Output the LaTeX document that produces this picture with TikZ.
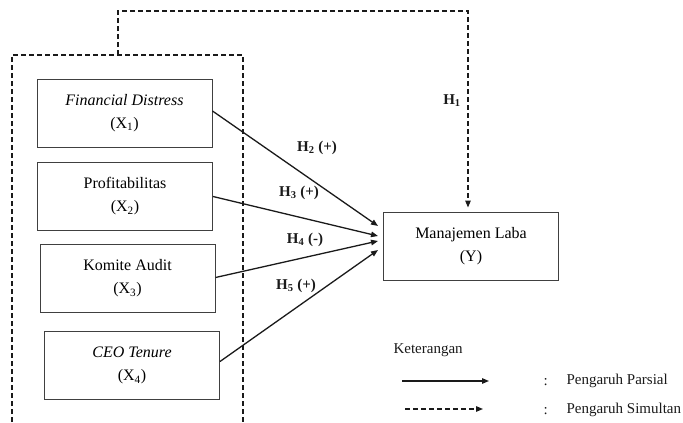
\documentclass[tikz,border=0pt]{standalone}
\usepackage{fontspec}
\setmainfont{Liberation Serif}
\usepackage{tikz}
\usetikzlibrary{positioning,arrows.meta,calc}
\definecolor{ink}{HTML}{1A1A1A}
\definecolor{frame}{HTML}{404040}
\tikzset{
  varbox/.style={rectangle,draw=frame,line width=1pt,fill=white,align=center,
    minimum width=175pt,minimum height=68pt,inner sep=2pt,font=\fontsize{16}{23}\selectfont},
  ar/.style={-{Triangle[length=7pt,width=5.5pt]},line width=1.3pt,draw=ink},
  dar/.style={-{Triangle[length=7pt,width=5.5pt]},line width=1.2pt,draw=ink,dash pattern=on 5pt off 3pt},
  dln/.style={line width=1.2pt,draw=ink,dash pattern=on 5pt off 3pt},
  hyp/.style={font=\fontsize{15}{17}\selectfont\bfseries,text=ink},
  lgd/.style={font=\fontsize{15}{17}\selectfont,text=ink,anchor=west},
}
\begin{document}
\begin{tikzpicture}[x=1pt,y=-1pt]
  \useasboundingbox (0,0) rectangle (683,423);
  % dashed group frame
  \coordinate (gbl) at (12,430);
  \coordinate (gtl) at (12,55);
  \coordinate (gtr) at (243,55);
  \coordinate (gbr) at (243,430);
  \draw[dln] (gbl)--(gtl)--(gtr)--(gbr);
  % variables
  \node[varbox] (x1) at (124.5,113) {\textit{Financial Distress}\\(X\textsubscript{1})};
  \node[varbox] (x2) at (125,196.5) {Profitabilitas\\(X\textsubscript{2})};
  \node[varbox] (x3) at (127.5,278.5) {Komite Audit\\(X\textsubscript{3})};
  \node[varbox] (x4) at (132,365.5) {\textit{CEO Tenure}\\(X\textsubscript{4})};
  \node[varbox] (y) at (471,246) {Manajemen Laba\\(Y)};
  % simultaneous path
  \coordinate (s0) at (118,55);
  \coordinate (s1) at (118,11);
  \coordinate (s2) at (468,11);
  \draw[dar] (s0)--(s1)--(s2)--([xshift=-3pt,yshift=4pt]y.north);
  \node[hyp] (h1) at (452,101) {H\textsubscript{1}};
  % partial paths
  \draw[ar] ([yshift=2pt]x1.east) -- ([xshift=-5pt,yshift=20pt]y.west);
  \draw[ar] (x2.east) -- ([xshift=-5pt,yshift=10pt]y.west);
  \draw[ar] ([yshift=1pt]x3.east) -- ([xshift=-5pt,yshift=5pt]y.west);
  \draw[ar] ([yshift=4pt]x4.east) -- ([xshift=-5pt,yshift=-4pt]y.west);
  \node[hyp] (h2) at (317,148) {H\textsubscript{2} (+)};
  \node[hyp] (h3) at (299,193) {H\textsubscript{3} (+)};
  \node[hyp] (h4) at (305,240) {H\textsubscript{4} (-)};
  \node[hyp] (h5) at (296,286) {H\textsubscript{5} (+)};
  % legend
  \node[lgd] (ket) at (390,350) {Keterangan};
  \coordinate (la0) at (402,381);
  \coordinate (la1) at (489,381);
  \coordinate (lb0) at (405,409);
  \coordinate (lb1) at (483,409);
  \draw[ar] (la0)--(la1);
  \draw[dar] (lb0)--(lb1);
  \node[lgd] (c1) at (540,382) {:};
  \node[lgd] (c2) at (540,411) {:};
  \node[lgd] (parsial) at (563,381) {Pengaruh Parsial};
  \node[lgd] (simultan) at (563,410) {Pengaruh Simultan};
\end{tikzpicture}
\end{document}
